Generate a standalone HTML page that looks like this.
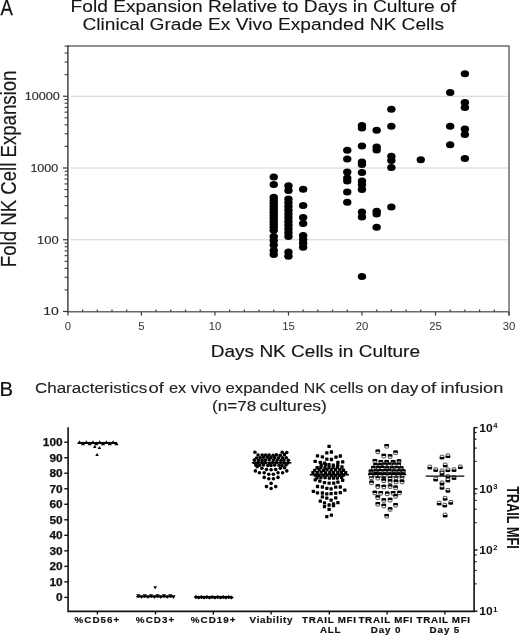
<!DOCTYPE html>
<html><head><meta charset="utf-8"><style>
html,body{margin:0;padding:0;background:#fff;}
svg{filter:grayscale(1);}
svg{display:block;}
</style></head><body>
<svg xmlns="http://www.w3.org/2000/svg" width="520" height="636" viewBox="0 0 520 636" font-family="Liberation Sans">
<rect width="520" height="636" fill="#fff"/>
<line x1="70.7" y1="239.75" x2="508.2" y2="239.75" stroke="#d4d4d4" stroke-width="1"/>
<line x1="70.7" y1="168.00" x2="508.2" y2="168.00" stroke="#d4d4d4" stroke-width="1"/>
<line x1="70.7" y1="96.25" x2="508.2" y2="96.25" stroke="#d4d4d4" stroke-width="1"/>
<path d="M67.9,46.0 H509.0 V315.59999999999997" fill="none" stroke="#6c6c6c" stroke-width="1.5"/>
<line x1="67.2" y1="311.7" x2="509.0" y2="311.7" stroke="#6a6a6a" stroke-width="1.5"/>
<line x1="67.9" y1="45.3" x2="67.9" y2="312.4" stroke="#383838" stroke-width="1.4"/>
<line x1="67.90" y1="311.7" x2="67.90" y2="315.59999999999997" stroke="#3a3a3a" stroke-width="1.2"/>
<text x="67.90" y="330.2" font-size="11.3" text-anchor="middle" fill="#333">0</text>
<line x1="82.60" y1="311.7" x2="82.60" y2="309.5" stroke="#3a3a3a" stroke-width="1.2"/>
<line x1="97.31" y1="311.7" x2="97.31" y2="309.5" stroke="#3a3a3a" stroke-width="1.2"/>
<line x1="112.01" y1="311.7" x2="112.01" y2="309.5" stroke="#3a3a3a" stroke-width="1.2"/>
<line x1="126.71" y1="311.7" x2="126.71" y2="309.5" stroke="#3a3a3a" stroke-width="1.2"/>
<line x1="141.42" y1="311.7" x2="141.42" y2="315.59999999999997" stroke="#3a3a3a" stroke-width="1.2"/>
<text x="141.42" y="330.2" font-size="11.3" text-anchor="middle" fill="#333">5</text>
<line x1="156.12" y1="311.7" x2="156.12" y2="309.5" stroke="#3a3a3a" stroke-width="1.2"/>
<line x1="170.82" y1="311.7" x2="170.82" y2="309.5" stroke="#3a3a3a" stroke-width="1.2"/>
<line x1="185.53" y1="311.7" x2="185.53" y2="309.5" stroke="#3a3a3a" stroke-width="1.2"/>
<line x1="200.23" y1="311.7" x2="200.23" y2="309.5" stroke="#3a3a3a" stroke-width="1.2"/>
<line x1="214.93" y1="311.7" x2="214.93" y2="315.59999999999997" stroke="#3a3a3a" stroke-width="1.2"/>
<text x="214.93" y="330.2" font-size="11.3" text-anchor="middle" fill="#333">10</text>
<line x1="229.64" y1="311.7" x2="229.64" y2="309.5" stroke="#3a3a3a" stroke-width="1.2"/>
<line x1="244.34" y1="311.7" x2="244.34" y2="309.5" stroke="#3a3a3a" stroke-width="1.2"/>
<line x1="259.04" y1="311.7" x2="259.04" y2="309.5" stroke="#3a3a3a" stroke-width="1.2"/>
<line x1="273.75" y1="311.7" x2="273.75" y2="309.5" stroke="#3a3a3a" stroke-width="1.2"/>
<line x1="288.45" y1="311.7" x2="288.45" y2="315.59999999999997" stroke="#3a3a3a" stroke-width="1.2"/>
<text x="288.45" y="330.2" font-size="11.3" text-anchor="middle" fill="#333">15</text>
<line x1="303.15" y1="311.7" x2="303.15" y2="309.5" stroke="#3a3a3a" stroke-width="1.2"/>
<line x1="317.86" y1="311.7" x2="317.86" y2="309.5" stroke="#3a3a3a" stroke-width="1.2"/>
<line x1="332.56" y1="311.7" x2="332.56" y2="309.5" stroke="#3a3a3a" stroke-width="1.2"/>
<line x1="347.26" y1="311.7" x2="347.26" y2="309.5" stroke="#3a3a3a" stroke-width="1.2"/>
<line x1="361.97" y1="311.7" x2="361.97" y2="315.59999999999997" stroke="#3a3a3a" stroke-width="1.2"/>
<text x="361.97" y="330.2" font-size="11.3" text-anchor="middle" fill="#333">20</text>
<line x1="376.67" y1="311.7" x2="376.67" y2="309.5" stroke="#3a3a3a" stroke-width="1.2"/>
<line x1="391.37" y1="311.7" x2="391.37" y2="309.5" stroke="#3a3a3a" stroke-width="1.2"/>
<line x1="406.08" y1="311.7" x2="406.08" y2="309.5" stroke="#3a3a3a" stroke-width="1.2"/>
<line x1="420.78" y1="311.7" x2="420.78" y2="309.5" stroke="#3a3a3a" stroke-width="1.2"/>
<line x1="435.48" y1="311.7" x2="435.48" y2="315.59999999999997" stroke="#3a3a3a" stroke-width="1.2"/>
<text x="435.48" y="330.2" font-size="11.3" text-anchor="middle" fill="#333">25</text>
<line x1="450.19" y1="311.7" x2="450.19" y2="309.5" stroke="#3a3a3a" stroke-width="1.2"/>
<line x1="464.89" y1="311.7" x2="464.89" y2="309.5" stroke="#3a3a3a" stroke-width="1.2"/>
<line x1="479.59" y1="311.7" x2="479.59" y2="309.5" stroke="#3a3a3a" stroke-width="1.2"/>
<line x1="494.30" y1="311.7" x2="494.30" y2="309.5" stroke="#3a3a3a" stroke-width="1.2"/>
<line x1="509.00" y1="311.7" x2="509.00" y2="315.59999999999997" stroke="#3a3a3a" stroke-width="1.2"/>
<text x="509.00" y="330.2" font-size="11.3" text-anchor="middle" fill="#333">30</text>
<line x1="63.00000000000001" y1="311.50" x2="67.9" y2="311.50" stroke="#3a3a3a" stroke-width="1.2"/>
<line x1="64.60000000000001" y1="289.90" x2="67.9" y2="289.90" stroke="#3a3a3a" stroke-width="1.1"/>
<line x1="64.60000000000001" y1="277.27" x2="67.9" y2="277.27" stroke="#3a3a3a" stroke-width="1.1"/>
<line x1="64.60000000000001" y1="268.30" x2="67.9" y2="268.30" stroke="#3a3a3a" stroke-width="1.1"/>
<line x1="64.60000000000001" y1="261.35" x2="67.9" y2="261.35" stroke="#3a3a3a" stroke-width="1.1"/>
<line x1="64.60000000000001" y1="255.67" x2="67.9" y2="255.67" stroke="#3a3a3a" stroke-width="1.1"/>
<line x1="64.60000000000001" y1="250.86" x2="67.9" y2="250.86" stroke="#3a3a3a" stroke-width="1.1"/>
<line x1="64.60000000000001" y1="246.70" x2="67.9" y2="246.70" stroke="#3a3a3a" stroke-width="1.1"/>
<line x1="64.60000000000001" y1="243.03" x2="67.9" y2="243.03" stroke="#3a3a3a" stroke-width="1.1"/>
<line x1="63.00000000000001" y1="239.75" x2="67.9" y2="239.75" stroke="#3a3a3a" stroke-width="1.2"/>
<line x1="64.60000000000001" y1="218.15" x2="67.9" y2="218.15" stroke="#3a3a3a" stroke-width="1.1"/>
<line x1="64.60000000000001" y1="205.52" x2="67.9" y2="205.52" stroke="#3a3a3a" stroke-width="1.1"/>
<line x1="64.60000000000001" y1="196.55" x2="67.9" y2="196.55" stroke="#3a3a3a" stroke-width="1.1"/>
<line x1="64.60000000000001" y1="189.60" x2="67.9" y2="189.60" stroke="#3a3a3a" stroke-width="1.1"/>
<line x1="64.60000000000001" y1="183.92" x2="67.9" y2="183.92" stroke="#3a3a3a" stroke-width="1.1"/>
<line x1="64.60000000000001" y1="179.11" x2="67.9" y2="179.11" stroke="#3a3a3a" stroke-width="1.1"/>
<line x1="64.60000000000001" y1="174.95" x2="67.9" y2="174.95" stroke="#3a3a3a" stroke-width="1.1"/>
<line x1="64.60000000000001" y1="171.28" x2="67.9" y2="171.28" stroke="#3a3a3a" stroke-width="1.1"/>
<line x1="63.00000000000001" y1="168.00" x2="67.9" y2="168.00" stroke="#3a3a3a" stroke-width="1.2"/>
<line x1="64.60000000000001" y1="146.40" x2="67.9" y2="146.40" stroke="#3a3a3a" stroke-width="1.1"/>
<line x1="64.60000000000001" y1="133.77" x2="67.9" y2="133.77" stroke="#3a3a3a" stroke-width="1.1"/>
<line x1="64.60000000000001" y1="124.80" x2="67.9" y2="124.80" stroke="#3a3a3a" stroke-width="1.1"/>
<line x1="64.60000000000001" y1="117.85" x2="67.9" y2="117.85" stroke="#3a3a3a" stroke-width="1.1"/>
<line x1="64.60000000000001" y1="112.17" x2="67.9" y2="112.17" stroke="#3a3a3a" stroke-width="1.1"/>
<line x1="64.60000000000001" y1="107.36" x2="67.9" y2="107.36" stroke="#3a3a3a" stroke-width="1.1"/>
<line x1="64.60000000000001" y1="103.20" x2="67.9" y2="103.20" stroke="#3a3a3a" stroke-width="1.1"/>
<line x1="64.60000000000001" y1="99.53" x2="67.9" y2="99.53" stroke="#3a3a3a" stroke-width="1.1"/>
<line x1="63.00000000000001" y1="96.25" x2="67.9" y2="96.25" stroke="#3a3a3a" stroke-width="1.2"/>
<line x1="64.60000000000001" y1="74.65" x2="67.9" y2="74.65" stroke="#3a3a3a" stroke-width="1.1"/>
<line x1="64.60000000000001" y1="62.02" x2="67.9" y2="62.02" stroke="#3a3a3a" stroke-width="1.1"/>
<line x1="64.60000000000001" y1="53.05" x2="67.9" y2="53.05" stroke="#3a3a3a" stroke-width="1.1"/>
<line x1="64.60000000000001" y1="46.10" x2="67.9" y2="46.10" stroke="#3a3a3a" stroke-width="1.1"/>
<text x="58.8" y="315.40" font-size="11.2" text-anchor="end" fill="#2a2a2a" stroke="#2a2a2a" stroke-width="0.15" textLength="15.6" lengthAdjust="spacingAndGlyphs">10</text>
<text x="58.7" y="243.65" font-size="11.2" text-anchor="end" fill="#2a2a2a" stroke="#2a2a2a" stroke-width="0.15" textLength="21.6" lengthAdjust="spacingAndGlyphs">100</text>
<text x="58.3" y="171.90" font-size="11.2" text-anchor="end" fill="#2a2a2a" stroke="#2a2a2a" stroke-width="0.15" textLength="27.9" lengthAdjust="spacingAndGlyphs">1000</text>
<text x="59.9" y="100.15" font-size="11.2" text-anchor="end" fill="#2a2a2a" stroke="#2a2a2a" stroke-width="0.15" textLength="35.2" lengthAdjust="spacingAndGlyphs">10000</text>
<ellipse cx="273.75" cy="176.90" rx="4.2" ry="3.5" fill="#000"/>
<ellipse cx="273.75" cy="184.40" rx="4.2" ry="3.5" fill="#000"/>
<ellipse cx="273.75" cy="197.30" rx="4.2" ry="3.5" fill="#000"/>
<ellipse cx="273.75" cy="200.30" rx="4.2" ry="3.5" fill="#000"/>
<ellipse cx="273.75" cy="203.30" rx="4.2" ry="3.5" fill="#000"/>
<ellipse cx="273.75" cy="206.30" rx="4.2" ry="3.5" fill="#000"/>
<ellipse cx="273.75" cy="209.30" rx="4.2" ry="3.5" fill="#000"/>
<ellipse cx="273.75" cy="212.30" rx="4.2" ry="3.5" fill="#000"/>
<ellipse cx="273.75" cy="215.30" rx="4.2" ry="3.5" fill="#000"/>
<ellipse cx="273.75" cy="218.30" rx="4.2" ry="3.5" fill="#000"/>
<ellipse cx="273.75" cy="221.30" rx="4.2" ry="3.5" fill="#000"/>
<ellipse cx="273.75" cy="224.30" rx="4.2" ry="3.5" fill="#000"/>
<ellipse cx="273.75" cy="227.30" rx="4.2" ry="3.5" fill="#000"/>
<ellipse cx="273.75" cy="230.30" rx="4.2" ry="3.5" fill="#000"/>
<ellipse cx="273.75" cy="236.50" rx="4.2" ry="3.5" fill="#000"/>
<ellipse cx="273.75" cy="240.50" rx="4.2" ry="3.5" fill="#000"/>
<ellipse cx="273.75" cy="245.00" rx="4.2" ry="3.5" fill="#000"/>
<ellipse cx="273.75" cy="250.50" rx="4.2" ry="3.5" fill="#000"/>
<ellipse cx="273.75" cy="254.50" rx="4.2" ry="3.5" fill="#000"/>
<ellipse cx="288.45" cy="185.70" rx="4.2" ry="3.5" fill="#000"/>
<ellipse cx="288.45" cy="190.50" rx="4.2" ry="3.5" fill="#000"/>
<ellipse cx="288.45" cy="199.00" rx="4.2" ry="3.5" fill="#000"/>
<ellipse cx="288.45" cy="202.75" rx="4.2" ry="3.5" fill="#000"/>
<ellipse cx="288.45" cy="206.50" rx="4.2" ry="3.5" fill="#000"/>
<ellipse cx="288.45" cy="210.25" rx="4.2" ry="3.5" fill="#000"/>
<ellipse cx="288.45" cy="214.00" rx="4.2" ry="3.5" fill="#000"/>
<ellipse cx="288.45" cy="217.75" rx="4.2" ry="3.5" fill="#000"/>
<ellipse cx="288.45" cy="221.50" rx="4.2" ry="3.5" fill="#000"/>
<ellipse cx="288.45" cy="225.25" rx="4.2" ry="3.5" fill="#000"/>
<ellipse cx="288.45" cy="229.00" rx="4.2" ry="3.5" fill="#000"/>
<ellipse cx="288.45" cy="232.75" rx="4.2" ry="3.5" fill="#000"/>
<ellipse cx="288.45" cy="236.50" rx="4.2" ry="3.5" fill="#000"/>
<ellipse cx="288.45" cy="252.00" rx="4.2" ry="3.5" fill="#000"/>
<ellipse cx="288.45" cy="256.30" rx="4.2" ry="3.5" fill="#000"/>
<ellipse cx="303.15" cy="189.30" rx="4.2" ry="3.5" fill="#000"/>
<ellipse cx="303.15" cy="205.60" rx="4.2" ry="3.5" fill="#000"/>
<ellipse cx="303.15" cy="217.50" rx="4.2" ry="3.5" fill="#000"/>
<ellipse cx="303.15" cy="223.50" rx="4.2" ry="3.5" fill="#000"/>
<ellipse cx="303.15" cy="235.50" rx="4.2" ry="3.5" fill="#000"/>
<ellipse cx="303.15" cy="239.50" rx="4.2" ry="3.5" fill="#000"/>
<ellipse cx="303.15" cy="243.30" rx="4.2" ry="3.5" fill="#000"/>
<ellipse cx="303.15" cy="247.30" rx="4.2" ry="3.5" fill="#000"/>
<ellipse cx="347.26" cy="150.30" rx="4.2" ry="3.5" fill="#000"/>
<ellipse cx="347.26" cy="159.00" rx="4.2" ry="3.5" fill="#000"/>
<ellipse cx="347.26" cy="171.90" rx="4.2" ry="3.5" fill="#000"/>
<ellipse cx="347.26" cy="178.00" rx="4.2" ry="3.5" fill="#000"/>
<ellipse cx="347.26" cy="181.00" rx="4.2" ry="3.5" fill="#000"/>
<ellipse cx="347.26" cy="191.90" rx="4.2" ry="3.5" fill="#000"/>
<ellipse cx="347.26" cy="202.30" rx="4.2" ry="3.5" fill="#000"/>
<ellipse cx="361.97" cy="125.50" rx="4.2" ry="3.5" fill="#000"/>
<ellipse cx="361.97" cy="128.00" rx="4.2" ry="3.5" fill="#000"/>
<ellipse cx="361.97" cy="146.00" rx="4.2" ry="3.5" fill="#000"/>
<ellipse cx="361.97" cy="162.00" rx="4.2" ry="3.5" fill="#000"/>
<ellipse cx="361.97" cy="164.50" rx="4.2" ry="3.5" fill="#000"/>
<ellipse cx="361.97" cy="172.40" rx="4.2" ry="3.5" fill="#000"/>
<ellipse cx="361.97" cy="181.00" rx="4.2" ry="3.5" fill="#000"/>
<ellipse cx="361.97" cy="184.80" rx="4.2" ry="3.5" fill="#000"/>
<ellipse cx="361.97" cy="189.40" rx="4.2" ry="3.5" fill="#000"/>
<ellipse cx="361.97" cy="211.90" rx="4.2" ry="3.5" fill="#000"/>
<ellipse cx="361.97" cy="216.90" rx="4.2" ry="3.5" fill="#000"/>
<ellipse cx="361.97" cy="276.40" rx="4.2" ry="3.5" fill="#000"/>
<ellipse cx="376.67" cy="130.30" rx="4.2" ry="3.5" fill="#000"/>
<ellipse cx="376.67" cy="146.90" rx="4.2" ry="3.5" fill="#000"/>
<ellipse cx="376.67" cy="150.00" rx="4.2" ry="3.5" fill="#000"/>
<ellipse cx="376.67" cy="211.30" rx="4.2" ry="3.5" fill="#000"/>
<ellipse cx="376.67" cy="214.00" rx="4.2" ry="3.5" fill="#000"/>
<ellipse cx="376.67" cy="227.30" rx="4.2" ry="3.5" fill="#000"/>
<ellipse cx="391.37" cy="109.30" rx="4.2" ry="3.5" fill="#000"/>
<ellipse cx="391.37" cy="126.20" rx="4.2" ry="3.5" fill="#000"/>
<ellipse cx="391.37" cy="156.30" rx="4.2" ry="3.5" fill="#000"/>
<ellipse cx="391.37" cy="160.60" rx="4.2" ry="3.5" fill="#000"/>
<ellipse cx="391.37" cy="167.60" rx="4.2" ry="3.5" fill="#000"/>
<ellipse cx="391.37" cy="206.90" rx="4.2" ry="3.5" fill="#000"/>
<ellipse cx="420.78" cy="159.80" rx="4.2" ry="3.5" fill="#000"/>
<ellipse cx="450.19" cy="92.50" rx="4.2" ry="3.5" fill="#000"/>
<ellipse cx="450.19" cy="126.30" rx="4.2" ry="3.5" fill="#000"/>
<ellipse cx="450.19" cy="144.80" rx="4.2" ry="3.5" fill="#000"/>
<ellipse cx="464.89" cy="73.80" rx="4.2" ry="3.5" fill="#000"/>
<ellipse cx="464.89" cy="102.40" rx="4.2" ry="3.5" fill="#000"/>
<ellipse cx="464.89" cy="107.60" rx="4.2" ry="3.5" fill="#000"/>
<ellipse cx="464.89" cy="128.90" rx="4.2" ry="3.5" fill="#000"/>
<ellipse cx="464.89" cy="134.40" rx="4.2" ry="3.5" fill="#000"/>
<ellipse cx="464.89" cy="158.60" rx="4.2" ry="3.5" fill="#000"/>
<text transform="translate(0.6,14.9) scale(0.84,1)" x="0" y="0" font-size="22" fill="#111" stroke="#111" stroke-width="0.25">A</text>
<text x="70.6" y="11.6" font-size="16.4" fill="#151515" stroke="#151515" stroke-width="0.1" textLength="385.5" lengthAdjust="spacingAndGlyphs">Fold Expansion Relative to Days in Culture of</text>
<text x="82.4" y="29.9" font-size="16.4" fill="#151515" stroke="#151515" stroke-width="0.1" textLength="361.8" lengthAdjust="spacingAndGlyphs">Clinical Grade Ex Vivo Expanded NK Cells</text>
<text x="210.8" y="356.7" font-size="16.2" fill="#151515" stroke="#151515" stroke-width="0.15" textLength="209.2" lengthAdjust="spacingAndGlyphs">Days NK Cells in Culture</text>
<text transform="translate(16.0,267.2) rotate(-90)" x="0" y="0" font-size="22.6" fill="#1a1a1a" stroke="#1a1a1a" stroke-width="0.2" textLength="196.6" lengthAdjust="spacingAndGlyphs">Fold NK Cell Expansion</text>
<path d="M68.1,427.2 V611.4 H474.1 V427.2" fill="none" stroke="#111" stroke-width="1.6"/>
<line x1="64.3" y1="597.40" x2="68.1" y2="597.40" stroke="#111" stroke-width="1.4"/>
<text x="62.6" y="601.40" font-size="10.4" font-weight="bold" text-anchor="end" fill="#111" stroke="#111" stroke-width="0.25" textLength="6.6" lengthAdjust="spacingAndGlyphs">0</text>
<line x1="64.3" y1="581.88" x2="68.1" y2="581.88" stroke="#111" stroke-width="1.4"/>
<text x="62.6" y="585.88" font-size="10.4" font-weight="bold" text-anchor="end" fill="#111" stroke="#111" stroke-width="0.25" textLength="13.2" lengthAdjust="spacingAndGlyphs">10</text>
<line x1="64.3" y1="566.36" x2="68.1" y2="566.36" stroke="#111" stroke-width="1.4"/>
<text x="62.6" y="570.36" font-size="10.4" font-weight="bold" text-anchor="end" fill="#111" stroke="#111" stroke-width="0.25" textLength="13.2" lengthAdjust="spacingAndGlyphs">20</text>
<line x1="64.3" y1="550.84" x2="68.1" y2="550.84" stroke="#111" stroke-width="1.4"/>
<text x="62.6" y="554.84" font-size="10.4" font-weight="bold" text-anchor="end" fill="#111" stroke="#111" stroke-width="0.25" textLength="13.2" lengthAdjust="spacingAndGlyphs">30</text>
<line x1="64.3" y1="535.32" x2="68.1" y2="535.32" stroke="#111" stroke-width="1.4"/>
<text x="62.6" y="539.32" font-size="10.4" font-weight="bold" text-anchor="end" fill="#111" stroke="#111" stroke-width="0.25" textLength="13.2" lengthAdjust="spacingAndGlyphs">40</text>
<line x1="64.3" y1="519.80" x2="68.1" y2="519.80" stroke="#111" stroke-width="1.4"/>
<text x="62.6" y="523.80" font-size="10.4" font-weight="bold" text-anchor="end" fill="#111" stroke="#111" stroke-width="0.25" textLength="13.2" lengthAdjust="spacingAndGlyphs">50</text>
<line x1="64.3" y1="504.28" x2="68.1" y2="504.28" stroke="#111" stroke-width="1.4"/>
<text x="62.6" y="508.28" font-size="10.4" font-weight="bold" text-anchor="end" fill="#111" stroke="#111" stroke-width="0.25" textLength="13.2" lengthAdjust="spacingAndGlyphs">60</text>
<line x1="64.3" y1="488.76" x2="68.1" y2="488.76" stroke="#111" stroke-width="1.4"/>
<text x="62.6" y="492.76" font-size="10.4" font-weight="bold" text-anchor="end" fill="#111" stroke="#111" stroke-width="0.25" textLength="13.2" lengthAdjust="spacingAndGlyphs">70</text>
<line x1="64.3" y1="473.24" x2="68.1" y2="473.24" stroke="#111" stroke-width="1.4"/>
<text x="62.6" y="477.24" font-size="10.4" font-weight="bold" text-anchor="end" fill="#111" stroke="#111" stroke-width="0.25" textLength="13.2" lengthAdjust="spacingAndGlyphs">80</text>
<line x1="64.3" y1="457.72" x2="68.1" y2="457.72" stroke="#111" stroke-width="1.4"/>
<text x="62.6" y="461.72" font-size="10.4" font-weight="bold" text-anchor="end" fill="#111" stroke="#111" stroke-width="0.25" textLength="13.2" lengthAdjust="spacingAndGlyphs">90</text>
<line x1="64.3" y1="442.20" x2="68.1" y2="442.20" stroke="#111" stroke-width="1.4"/>
<text x="62.6" y="446.20" font-size="10.4" font-weight="bold" text-anchor="end" fill="#111" stroke="#111" stroke-width="0.25" textLength="19.8" lengthAdjust="spacingAndGlyphs">100</text>
<line x1="97.4" y1="611.4" x2="97.4" y2="614.4" stroke="#111" stroke-width="1.4"/>
<line x1="155.5" y1="611.4" x2="155.5" y2="614.4" stroke="#111" stroke-width="1.4"/>
<line x1="213.3" y1="611.4" x2="213.3" y2="614.4" stroke="#111" stroke-width="1.4"/>
<line x1="271.1" y1="611.4" x2="271.1" y2="614.4" stroke="#111" stroke-width="1.4"/>
<line x1="329.3" y1="611.4" x2="329.3" y2="614.4" stroke="#111" stroke-width="1.4"/>
<line x1="387.1" y1="611.4" x2="387.1" y2="614.4" stroke="#111" stroke-width="1.4"/>
<line x1="444.9" y1="611.4" x2="444.9" y2="614.4" stroke="#111" stroke-width="1.4"/>
<line x1="474.1" y1="611.20" x2="477.5" y2="611.20" stroke="#111" stroke-width="1.4"/>
<line x1="474.1" y1="550.00" x2="477.5" y2="550.00" stroke="#111" stroke-width="1.4"/>
<line x1="474.1" y1="488.80" x2="477.5" y2="488.80" stroke="#111" stroke-width="1.4"/>
<line x1="474.1" y1="427.60" x2="477.5" y2="427.60" stroke="#111" stroke-width="1.4"/>
<line x1="474.1" y1="554.90" x2="476.5" y2="554.90" stroke="#111" stroke-width="1.2"/>
<line x1="474.1" y1="561.63" x2="476.5" y2="561.63" stroke="#111" stroke-width="1.2"/>
<line x1="474.1" y1="570.50" x2="476.5" y2="570.50" stroke="#111" stroke-width="1.2"/>
<line x1="474.1" y1="583.84" x2="476.5" y2="583.84" stroke="#111" stroke-width="1.2"/>
<line x1="474.1" y1="493.70" x2="476.5" y2="493.70" stroke="#111" stroke-width="1.2"/>
<line x1="474.1" y1="500.43" x2="476.5" y2="500.43" stroke="#111" stroke-width="1.2"/>
<line x1="474.1" y1="509.30" x2="476.5" y2="509.30" stroke="#111" stroke-width="1.2"/>
<line x1="474.1" y1="522.64" x2="476.5" y2="522.64" stroke="#111" stroke-width="1.2"/>
<line x1="474.1" y1="432.50" x2="476.5" y2="432.50" stroke="#111" stroke-width="1.2"/>
<line x1="474.1" y1="439.23" x2="476.5" y2="439.23" stroke="#111" stroke-width="1.2"/>
<line x1="474.1" y1="448.10" x2="476.5" y2="448.10" stroke="#111" stroke-width="1.2"/>
<line x1="474.1" y1="461.44" x2="476.5" y2="461.44" stroke="#111" stroke-width="1.2"/>
<text x="479.2" y="615.20" font-size="11" font-weight="bold" fill="#111" textLength="13.4" lengthAdjust="spacingAndGlyphs">10</text>
<text x="493.3" y="611.50" font-size="7.6" font-weight="bold" fill="#111">1</text>
<text x="479.2" y="554.00" font-size="11" font-weight="bold" fill="#111" textLength="13.4" lengthAdjust="spacingAndGlyphs">10</text>
<text x="493.3" y="550.30" font-size="7.6" font-weight="bold" fill="#111">2</text>
<text x="479.2" y="492.80" font-size="11" font-weight="bold" fill="#111" textLength="13.4" lengthAdjust="spacingAndGlyphs">10</text>
<text x="493.3" y="489.10" font-size="7.6" font-weight="bold" fill="#111">3</text>
<text x="479.2" y="431.60" font-size="11" font-weight="bold" fill="#111" textLength="13.4" lengthAdjust="spacingAndGlyphs">10</text>
<text x="493.3" y="427.90" font-size="7.6" font-weight="bold" fill="#111">4</text>
<text transform="translate(507.4,486.2) rotate(90)" font-size="15.8" font-weight="bold" fill="#111" textLength="62.6" lengthAdjust="spacingAndGlyphs">TRAIL MFI</text>
<text x="74.60" y="622.7" font-size="9.8" font-weight="bold" fill="#111" stroke="#111" stroke-width="0.2" textLength="44.60" lengthAdjust="spacing">%CD56+</text>
<text x="135.85" y="622.7" font-size="9.8" font-weight="bold" fill="#111" stroke="#111" stroke-width="0.2" textLength="38.40" lengthAdjust="spacing">%CD3+</text>
<text x="190.82" y="622.7" font-size="9.8" font-weight="bold" fill="#111" stroke="#111" stroke-width="0.2" textLength="44.65" lengthAdjust="spacing">%CD19+</text>
<text x="249.60" y="622.7" font-size="9.8" font-weight="bold" fill="#111" stroke="#111" stroke-width="0.2" textLength="42.90" lengthAdjust="spacing">Viability</text>
<text x="302.10" y="622.7" font-size="9.8" font-weight="bold" fill="#111" stroke="#111" stroke-width="0.2" textLength="53.90" lengthAdjust="spacing">TRAIL MFI</text>
<text x="320.10" y="632.8" font-size="9.8" font-weight="bold" fill="#111" stroke="#111" stroke-width="0.2" textLength="20.40" lengthAdjust="spacing">ALL</text>
<text x="358.38" y="622.7" font-size="9.8" font-weight="bold" fill="#111" stroke="#111" stroke-width="0.2" textLength="54.15" lengthAdjust="spacing">TRAIL MFI</text>
<text x="370.83" y="632.8" font-size="9.8" font-weight="bold" fill="#111" stroke="#111" stroke-width="0.2" textLength="29.65" lengthAdjust="spacing">Day 0</text>
<text x="416.60" y="622.7" font-size="9.8" font-weight="bold" fill="#111" stroke="#111" stroke-width="0.2" textLength="53.40" lengthAdjust="spacing">TRAIL MFI</text>
<text x="429.62" y="632.8" font-size="9.8" font-weight="bold" fill="#111" stroke="#111" stroke-width="0.2" textLength="29.65" lengthAdjust="spacing">Day 5</text>
<line x1="77.7" y1="442.9" x2="116.9" y2="442.9" stroke="#000" stroke-width="1.6"/>
<path d="M77.50,444.00 L79.60,440.20 L81.70,444.00 Z" fill="#000"/>
<path d="M80.85,445.20 L82.95,441.40 L85.05,445.20 Z" fill="#000"/>
<path d="M84.20,444.00 L86.30,440.20 L88.40,444.00 Z" fill="#000"/>
<path d="M87.55,445.20 L89.65,441.40 L91.75,445.20 Z" fill="#000"/>
<path d="M90.90,444.00 L93.00,440.20 L95.10,444.00 Z" fill="#000"/>
<path d="M94.25,445.20 L96.35,441.40 L98.45,445.20 Z" fill="#000"/>
<path d="M97.60,444.00 L99.70,440.20 L101.80,444.00 Z" fill="#000"/>
<path d="M100.95,445.20 L103.05,441.40 L105.15,445.20 Z" fill="#000"/>
<path d="M104.30,444.00 L106.40,440.20 L108.50,444.00 Z" fill="#000"/>
<path d="M107.65,445.20 L109.75,441.40 L111.85,445.20 Z" fill="#000"/>
<path d="M111.00,444.00 L113.10,440.20 L115.20,444.00 Z" fill="#000"/>
<path d="M114.35,445.20 L116.45,441.40 L118.55,445.20 Z" fill="#000"/>
<path d="M93.00,447.90 L94.80,444.70 L96.60,447.90 Z" fill="#000"/>
<path d="M97.60,449.10 L99.40,445.90 L101.20,449.10 Z" fill="#000"/>
<path d="M95.30,456.10 L97.10,452.90 L98.90,456.10 Z" fill="#000"/>
<line x1="136.3" y1="596.7" x2="174.2" y2="596.7" stroke="#000" stroke-width="1.6"/>
<path d="M136.20,594.20 L138.30,598.00 L140.40,594.20 Z" fill="#000"/>
<path d="M139.40,595.30 L141.50,599.10 L143.60,595.30 Z" fill="#000"/>
<path d="M142.60,594.20 L144.70,598.00 L146.80,594.20 Z" fill="#000"/>
<path d="M145.80,595.30 L147.90,599.10 L150.00,595.30 Z" fill="#000"/>
<path d="M149.00,594.20 L151.10,598.00 L153.20,594.20 Z" fill="#000"/>
<path d="M152.20,595.30 L154.30,599.10 L156.40,595.30 Z" fill="#000"/>
<path d="M155.40,594.20 L157.50,598.00 L159.60,594.20 Z" fill="#000"/>
<path d="M158.60,595.30 L160.70,599.10 L162.80,595.30 Z" fill="#000"/>
<path d="M161.80,594.20 L163.90,598.00 L166.00,594.20 Z" fill="#000"/>
<path d="M165.00,595.30 L167.10,599.10 L169.20,595.30 Z" fill="#000"/>
<path d="M168.20,594.20 L170.30,598.00 L172.40,594.20 Z" fill="#000"/>
<path d="M171.40,595.30 L173.50,599.10 L175.60,595.30 Z" fill="#000"/>
<path d="M153.40,586.30 L155.20,589.50 L157.00,586.30 Z" fill="#000"/>
<line x1="195" y1="597.3" x2="231.2" y2="597.3" stroke="#000" stroke-width="2.0"/>
<path d="M193.60,597.05 L196.00,595.05 L198.40,597.05 L196.00,599.05 Z" fill="#000"/>
<path d="M196.32,597.55 L198.72,595.55 L201.12,597.55 L198.72,599.55 Z" fill="#000"/>
<path d="M199.04,597.05 L201.44,595.05 L203.84,597.05 L201.44,599.05 Z" fill="#000"/>
<path d="M201.76,597.55 L204.16,595.55 L206.56,597.55 L204.16,599.55 Z" fill="#000"/>
<path d="M204.48,597.05 L206.88,595.05 L209.28,597.05 L206.88,599.05 Z" fill="#000"/>
<path d="M207.20,597.55 L209.60,595.55 L212.00,597.55 L209.60,599.55 Z" fill="#000"/>
<path d="M209.92,597.05 L212.32,595.05 L214.72,597.05 L212.32,599.05 Z" fill="#000"/>
<path d="M212.64,597.55 L215.04,595.55 L217.44,597.55 L215.04,599.55 Z" fill="#000"/>
<path d="M215.36,597.05 L217.76,595.05 L220.16,597.05 L217.76,599.05 Z" fill="#000"/>
<path d="M218.08,597.55 L220.48,595.55 L222.88,597.55 L220.48,599.55 Z" fill="#000"/>
<path d="M220.80,597.05 L223.20,595.05 L225.60,597.05 L223.20,599.05 Z" fill="#000"/>
<path d="M223.52,597.55 L225.92,595.55 L228.32,597.55 L225.92,599.55 Z" fill="#000"/>
<path d="M226.24,597.05 L228.64,595.05 L231.04,597.05 L228.64,599.05 Z" fill="#000"/>
<path d="M228.96,597.55 L231.36,595.55 L233.76,597.55 L231.36,599.55 Z" fill="#000"/>
<circle cx="254.90" cy="452.30" r="1.8" fill="#000"/>
<circle cx="282.20" cy="452.30" r="1.8" fill="#000"/>
<circle cx="286.80" cy="452.50" r="1.8" fill="#000"/>
<circle cx="257.20" cy="466.80" r="1.8" fill="#000"/>
<circle cx="261.90" cy="468.20" r="1.8" fill="#000"/>
<circle cx="266.50" cy="469.50" r="1.8" fill="#000"/>
<circle cx="271.10" cy="469.80" r="1.8" fill="#000"/>
<circle cx="275.70" cy="469.50" r="1.8" fill="#000"/>
<circle cx="280.30" cy="468.20" r="1.8" fill="#000"/>
<circle cx="284.50" cy="467.70" r="1.8" fill="#000"/>
<circle cx="255.40" cy="470.90" r="1.8" fill="#000"/>
<circle cx="259.50" cy="472.80" r="1.8" fill="#000"/>
<circle cx="264.20" cy="472.80" r="1.8" fill="#000"/>
<circle cx="268.80" cy="474.20" r="1.8" fill="#000"/>
<circle cx="273.40" cy="474.20" r="1.8" fill="#000"/>
<circle cx="278.00" cy="472.80" r="1.8" fill="#000"/>
<circle cx="282.60" cy="472.80" r="1.8" fill="#000"/>
<circle cx="286.80" cy="470.90" r="1.8" fill="#000"/>
<circle cx="264.20" cy="477.40" r="1.8" fill="#000"/>
<circle cx="268.80" cy="478.80" r="1.8" fill="#000"/>
<circle cx="273.40" cy="478.80" r="1.8" fill="#000"/>
<circle cx="278.00" cy="477.40" r="1.8" fill="#000"/>
<circle cx="271.10" cy="483.40" r="1.8" fill="#000"/>
<circle cx="266.50" cy="486.60" r="1.8" fill="#000"/>
<circle cx="275.70" cy="486.60" r="1.8" fill="#000"/>
<circle cx="271.10" cy="488.50" r="1.8" fill="#000"/>
<circle cx="258.04" cy="455.05" r="1.8" fill="#000"/>
<circle cx="262.16" cy="454.97" r="1.8" fill="#000"/>
<circle cx="265.58" cy="455.07" r="1.8" fill="#000"/>
<circle cx="269.07" cy="455.01" r="1.8" fill="#000"/>
<circle cx="273.18" cy="455.23" r="1.8" fill="#000"/>
<circle cx="276.50" cy="454.84" r="1.8" fill="#000"/>
<circle cx="280.25" cy="455.25" r="1.8" fill="#000"/>
<circle cx="284.48" cy="454.63" r="1.8" fill="#000"/>
<circle cx="256.59" cy="457.97" r="1.8" fill="#000"/>
<circle cx="260.07" cy="457.69" r="1.8" fill="#000"/>
<circle cx="263.43" cy="457.21" r="1.8" fill="#000"/>
<circle cx="267.47" cy="457.25" r="1.8" fill="#000"/>
<circle cx="270.95" cy="457.39" r="1.8" fill="#000"/>
<circle cx="274.57" cy="457.57" r="1.8" fill="#000"/>
<circle cx="278.65" cy="457.87" r="1.8" fill="#000"/>
<circle cx="282.47" cy="457.71" r="1.8" fill="#000"/>
<circle cx="286.20" cy="457.73" r="1.8" fill="#000"/>
<circle cx="254.29" cy="460.02" r="1.8" fill="#000"/>
<circle cx="258.47" cy="460.60" r="1.8" fill="#000"/>
<circle cx="262.10" cy="460.37" r="1.8" fill="#000"/>
<circle cx="265.43" cy="459.98" r="1.8" fill="#000"/>
<circle cx="269.16" cy="459.86" r="1.8" fill="#000"/>
<circle cx="273.29" cy="460.12" r="1.8" fill="#000"/>
<circle cx="277.10" cy="460.11" r="1.8" fill="#000"/>
<circle cx="280.94" cy="460.48" r="1.8" fill="#000"/>
<circle cx="283.93" cy="459.97" r="1.8" fill="#000"/>
<circle cx="288.40" cy="460.18" r="1.8" fill="#000"/>
<circle cx="254.71" cy="462.72" r="1.8" fill="#000"/>
<circle cx="257.73" cy="462.90" r="1.8" fill="#000"/>
<circle cx="262.05" cy="462.62" r="1.8" fill="#000"/>
<circle cx="265.24" cy="462.67" r="1.8" fill="#000"/>
<circle cx="269.70" cy="463.01" r="1.8" fill="#000"/>
<circle cx="272.77" cy="462.60" r="1.8" fill="#000"/>
<circle cx="276.51" cy="462.45" r="1.8" fill="#000"/>
<circle cx="280.81" cy="462.54" r="1.8" fill="#000"/>
<circle cx="284.37" cy="462.76" r="1.8" fill="#000"/>
<circle cx="287.83" cy="462.99" r="1.8" fill="#000"/>
<circle cx="255.90" cy="465.31" r="1.8" fill="#000"/>
<circle cx="259.64" cy="465.14" r="1.8" fill="#000"/>
<circle cx="263.47" cy="465.02" r="1.8" fill="#000"/>
<circle cx="267.83" cy="465.44" r="1.8" fill="#000"/>
<circle cx="271.04" cy="465.51" r="1.8" fill="#000"/>
<circle cx="274.72" cy="465.12" r="1.8" fill="#000"/>
<circle cx="278.98" cy="465.31" r="1.8" fill="#000"/>
<circle cx="282.13" cy="465.59" r="1.8" fill="#000"/>
<circle cx="285.97" cy="465.01" r="1.8" fill="#000"/>
<line x1="251.7" y1="462.8" x2="291.4" y2="462.8" stroke="#000" stroke-width="1.4"/>
<rect x="327.45" y="444.75" width="3.3" height="3.3" rx="0.6" fill="#000"/>
<rect x="325.15" y="451.25" width="3.3" height="3.3" rx="0.6" fill="#000"/>
<rect x="329.75" y="450.35" width="3.3" height="3.3" rx="0.6" fill="#000"/>
<rect x="315.85" y="454.25" width="3.3" height="3.3" rx="0.6" fill="#000"/>
<rect x="320.75" y="455.15" width="3.3" height="3.3" rx="0.6" fill="#000"/>
<rect x="334.35" y="455.55" width="3.3" height="3.3" rx="0.6" fill="#000"/>
<rect x="338.65" y="454.35" width="3.3" height="3.3" rx="0.6" fill="#000"/>
<rect x="325.15" y="457.45" width="3.3" height="3.3" rx="0.6" fill="#000"/>
<rect x="329.75" y="457.85" width="3.3" height="3.3" rx="0.6" fill="#000"/>
<rect x="313.55" y="459.75" width="3.3" height="3.3" rx="0.6" fill="#000"/>
<rect x="318.65" y="460.65" width="3.3" height="3.3" rx="0.6" fill="#000"/>
<rect x="322.85" y="461.45" width="3.3" height="3.3" rx="0.6" fill="#000"/>
<rect x="336.25" y="460.65" width="3.3" height="3.3" rx="0.6" fill="#000"/>
<rect x="341.05" y="460.25" width="3.3" height="3.3" rx="0.6" fill="#000"/>
<rect x="313.55" y="478.15" width="3.3" height="3.3" rx="0.6" fill="#000"/>
<rect x="318.25" y="479.55" width="3.3" height="3.3" rx="0.6" fill="#000"/>
<rect x="322.85" y="480.95" width="3.3" height="3.3" rx="0.6" fill="#000"/>
<rect x="327.45" y="481.45" width="3.3" height="3.3" rx="0.6" fill="#000"/>
<rect x="332.05" y="481.45" width="3.3" height="3.3" rx="0.6" fill="#000"/>
<rect x="336.25" y="480.55" width="3.3" height="3.3" rx="0.6" fill="#000"/>
<rect x="341.05" y="478.65" width="3.3" height="3.3" rx="0.6" fill="#000"/>
<rect x="315.85" y="484.85" width="3.3" height="3.3" rx="0.6" fill="#000"/>
<rect x="320.75" y="485.35" width="3.3" height="3.3" rx="0.6" fill="#000"/>
<rect x="325.15" y="486.65" width="3.3" height="3.3" rx="0.6" fill="#000"/>
<rect x="329.45" y="487.25" width="3.3" height="3.3" rx="0.6" fill="#000"/>
<rect x="334.05" y="485.55" width="3.3" height="3.3" rx="0.6" fill="#000"/>
<rect x="338.65" y="485.35" width="3.3" height="3.3" rx="0.6" fill="#000"/>
<rect x="311.75" y="489.75" width="3.3" height="3.3" rx="0.6" fill="#000"/>
<rect x="315.85" y="491.15" width="3.3" height="3.3" rx="0.6" fill="#000"/>
<rect x="320.75" y="491.35" width="3.3" height="3.3" rx="0.6" fill="#000"/>
<rect x="325.15" y="492.25" width="3.3" height="3.3" rx="0.6" fill="#000"/>
<rect x="329.45" y="492.05" width="3.3" height="3.3" rx="0.6" fill="#000"/>
<rect x="334.05" y="491.55" width="3.3" height="3.3" rx="0.6" fill="#000"/>
<rect x="338.65" y="490.95" width="3.3" height="3.3" rx="0.6" fill="#000"/>
<rect x="343.15" y="488.55" width="3.3" height="3.3" rx="0.6" fill="#000"/>
<rect x="320.75" y="495.25" width="3.3" height="3.3" rx="0.6" fill="#000"/>
<rect x="325.15" y="496.45" width="3.3" height="3.3" rx="0.6" fill="#000"/>
<rect x="334.05" y="496.25" width="3.3" height="3.3" rx="0.6" fill="#000"/>
<rect x="318.65" y="499.45" width="3.3" height="3.3" rx="0.6" fill="#000"/>
<rect x="329.45" y="498.55" width="3.3" height="3.3" rx="0.6" fill="#000"/>
<rect x="336.25" y="501.05" width="3.3" height="3.3" rx="0.6" fill="#000"/>
<rect x="322.85" y="501.25" width="3.3" height="3.3" rx="0.6" fill="#000"/>
<rect x="327.45" y="503.35" width="3.3" height="3.3" rx="0.6" fill="#000"/>
<rect x="331.85" y="502.35" width="3.3" height="3.3" rx="0.6" fill="#000"/>
<rect x="322.85" y="504.95" width="3.3" height="3.3" rx="0.6" fill="#000"/>
<rect x="331.85" y="504.05" width="3.3" height="3.3" rx="0.6" fill="#000"/>
<rect x="327.45" y="507.75" width="3.3" height="3.3" rx="0.6" fill="#000"/>
<rect x="325.15" y="514.95" width="3.3" height="3.3" rx="0.6" fill="#000"/>
<rect x="329.75" y="513.45" width="3.3" height="3.3" rx="0.6" fill="#000"/>
<rect x="319.53" y="463.28" width="3.3" height="3.3" rx="0.6" fill="#000"/>
<rect x="323.78" y="462.86" width="3.3" height="3.3" rx="0.6" fill="#000"/>
<rect x="327.36" y="463.05" width="3.3" height="3.3" rx="0.6" fill="#000"/>
<rect x="331.67" y="463.40" width="3.3" height="3.3" rx="0.6" fill="#000"/>
<rect x="336.10" y="463.23" width="3.3" height="3.3" rx="0.6" fill="#000"/>
<rect x="315.50" y="465.88" width="3.3" height="3.3" rx="0.6" fill="#000"/>
<rect x="319.27" y="465.70" width="3.3" height="3.3" rx="0.6" fill="#000"/>
<rect x="323.38" y="466.07" width="3.3" height="3.3" rx="0.6" fill="#000"/>
<rect x="327.40" y="466.01" width="3.3" height="3.3" rx="0.6" fill="#000"/>
<rect x="331.51" y="465.90" width="3.3" height="3.3" rx="0.6" fill="#000"/>
<rect x="335.82" y="465.67" width="3.3" height="3.3" rx="0.6" fill="#000"/>
<rect x="340.32" y="465.36" width="3.3" height="3.3" rx="0.6" fill="#000"/>
<rect x="313.05" y="468.68" width="3.3" height="3.3" rx="0.6" fill="#000"/>
<rect x="317.51" y="468.02" width="3.3" height="3.3" rx="0.6" fill="#000"/>
<rect x="321.99" y="468.71" width="3.3" height="3.3" rx="0.6" fill="#000"/>
<rect x="325.39" y="468.29" width="3.3" height="3.3" rx="0.6" fill="#000"/>
<rect x="329.51" y="468.20" width="3.3" height="3.3" rx="0.6" fill="#000"/>
<rect x="334.00" y="468.08" width="3.3" height="3.3" rx="0.6" fill="#000"/>
<rect x="338.16" y="467.99" width="3.3" height="3.3" rx="0.6" fill="#000"/>
<rect x="341.84" y="468.60" width="3.3" height="3.3" rx="0.6" fill="#000"/>
<rect x="311.27" y="470.89" width="3.3" height="3.3" rx="0.6" fill="#000"/>
<rect x="315.53" y="470.93" width="3.3" height="3.3" rx="0.6" fill="#000"/>
<rect x="319.46" y="470.57" width="3.3" height="3.3" rx="0.6" fill="#000"/>
<rect x="323.83" y="471.32" width="3.3" height="3.3" rx="0.6" fill="#000"/>
<rect x="328.13" y="471.08" width="3.3" height="3.3" rx="0.6" fill="#000"/>
<rect x="331.74" y="470.84" width="3.3" height="3.3" rx="0.6" fill="#000"/>
<rect x="336.10" y="471.09" width="3.3" height="3.3" rx="0.6" fill="#000"/>
<rect x="339.74" y="470.74" width="3.3" height="3.3" rx="0.6" fill="#000"/>
<rect x="344.04" y="470.96" width="3.3" height="3.3" rx="0.6" fill="#000"/>
<rect x="313.65" y="473.55" width="3.3" height="3.3" rx="0.6" fill="#000"/>
<rect x="317.12" y="473.81" width="3.3" height="3.3" rx="0.6" fill="#000"/>
<rect x="321.54" y="473.57" width="3.3" height="3.3" rx="0.6" fill="#000"/>
<rect x="325.48" y="473.49" width="3.3" height="3.3" rx="0.6" fill="#000"/>
<rect x="329.71" y="473.77" width="3.3" height="3.3" rx="0.6" fill="#000"/>
<rect x="333.58" y="473.59" width="3.3" height="3.3" rx="0.6" fill="#000"/>
<rect x="337.74" y="473.71" width="3.3" height="3.3" rx="0.6" fill="#000"/>
<rect x="341.73" y="473.37" width="3.3" height="3.3" rx="0.6" fill="#000"/>
<rect x="315.33" y="476.16" width="3.3" height="3.3" rx="0.6" fill="#000"/>
<rect x="319.19" y="476.02" width="3.3" height="3.3" rx="0.6" fill="#000"/>
<rect x="323.42" y="475.88" width="3.3" height="3.3" rx="0.6" fill="#000"/>
<rect x="327.73" y="476.42" width="3.3" height="3.3" rx="0.6" fill="#000"/>
<rect x="331.83" y="476.41" width="3.3" height="3.3" rx="0.6" fill="#000"/>
<rect x="335.68" y="476.39" width="3.3" height="3.3" rx="0.6" fill="#000"/>
<rect x="339.94" y="475.80" width="3.3" height="3.3" rx="0.6" fill="#000"/>
<line x1="309.7" y1="474.8" x2="349" y2="474.8" stroke="#000" stroke-width="1.4"/>
<rect x="384.90" y="444.50" width="3.60" height="3.60" rx="0.6" fill="#fafafa" stroke="#3a3a3a" stroke-width="0.9"/>
<rect x="384.45" y="444.05" width="4.5" height="2.25" rx="0.5" fill="#000"/>
<rect x="376.00" y="450.00" width="3.60" height="3.60" rx="0.6" fill="#fafafa" stroke="#3a3a3a" stroke-width="0.9"/>
<rect x="375.55" y="449.55" width="4.5" height="2.25" rx="0.5" fill="#000"/>
<rect x="393.80" y="450.90" width="3.60" height="3.60" rx="0.6" fill="#fafafa" stroke="#3a3a3a" stroke-width="0.9"/>
<rect x="393.35" y="450.45" width="4.5" height="2.25" rx="0.5" fill="#000"/>
<rect x="382.00" y="454.30" width="3.60" height="3.60" rx="0.6" fill="#fafafa" stroke="#3a3a3a" stroke-width="0.9"/>
<rect x="381.55" y="453.85" width="4.5" height="2.25" rx="0.5" fill="#000"/>
<rect x="388.30" y="454.70" width="3.60" height="3.60" rx="0.6" fill="#fafafa" stroke="#3a3a3a" stroke-width="0.9"/>
<rect x="387.85" y="454.25" width="4.5" height="2.25" rx="0.5" fill="#000"/>
<rect x="373.10" y="459.40" width="3.60" height="3.60" rx="0.6" fill="#fafafa" stroke="#3a3a3a" stroke-width="0.9"/>
<rect x="372.65" y="458.95" width="4.5" height="2.25" rx="0.5" fill="#000"/>
<rect x="379.00" y="460.40" width="3.60" height="3.60" rx="0.6" fill="#fafafa" stroke="#3a3a3a" stroke-width="0.9"/>
<rect x="378.55" y="459.95" width="4.5" height="2.25" rx="0.5" fill="#000"/>
<rect x="384.90" y="460.40" width="3.60" height="3.60" rx="0.6" fill="#fafafa" stroke="#3a3a3a" stroke-width="0.9"/>
<rect x="384.45" y="459.95" width="4.5" height="2.25" rx="0.5" fill="#000"/>
<rect x="391.30" y="460.40" width="3.60" height="3.60" rx="0.6" fill="#fafafa" stroke="#3a3a3a" stroke-width="0.9"/>
<rect x="390.85" y="459.95" width="4.5" height="2.25" rx="0.5" fill="#000"/>
<rect x="397.20" y="459.80" width="3.60" height="3.60" rx="0.6" fill="#fafafa" stroke="#3a3a3a" stroke-width="0.9"/>
<rect x="396.75" y="459.35" width="4.5" height="2.25" rx="0.5" fill="#000"/>
<rect x="369.70" y="475.90" width="3.60" height="3.60" rx="0.6" fill="#fafafa" stroke="#3a3a3a" stroke-width="0.9"/>
<rect x="369.25" y="475.45" width="4.5" height="2.25" rx="0.5" fill="#000"/>
<rect x="376.00" y="476.30" width="3.60" height="3.60" rx="0.6" fill="#fafafa" stroke="#3a3a3a" stroke-width="0.9"/>
<rect x="375.55" y="475.85" width="4.5" height="2.25" rx="0.5" fill="#000"/>
<rect x="382.00" y="476.70" width="3.60" height="3.60" rx="0.6" fill="#fafafa" stroke="#3a3a3a" stroke-width="0.9"/>
<rect x="381.55" y="476.25" width="4.5" height="2.25" rx="0.5" fill="#000"/>
<rect x="388.30" y="476.30" width="3.60" height="3.60" rx="0.6" fill="#fafafa" stroke="#3a3a3a" stroke-width="0.9"/>
<rect x="387.85" y="475.85" width="4.5" height="2.25" rx="0.5" fill="#000"/>
<rect x="394.20" y="475.90" width="3.60" height="3.60" rx="0.6" fill="#fafafa" stroke="#3a3a3a" stroke-width="0.9"/>
<rect x="393.75" y="475.45" width="4.5" height="2.25" rx="0.5" fill="#000"/>
<rect x="400.20" y="475.90" width="3.60" height="3.60" rx="0.6" fill="#fafafa" stroke="#3a3a3a" stroke-width="0.9"/>
<rect x="399.75" y="475.45" width="4.5" height="2.25" rx="0.5" fill="#000"/>
<rect x="369.70" y="481.00" width="3.60" height="3.60" rx="0.6" fill="#fafafa" stroke="#3a3a3a" stroke-width="0.9"/>
<rect x="369.25" y="480.55" width="4.5" height="2.25" rx="0.5" fill="#000"/>
<rect x="382.00" y="478.90" width="3.60" height="3.60" rx="0.6" fill="#fafafa" stroke="#3a3a3a" stroke-width="0.9"/>
<rect x="381.55" y="478.45" width="4.5" height="2.25" rx="0.5" fill="#000"/>
<rect x="388.30" y="479.70" width="3.60" height="3.60" rx="0.6" fill="#fafafa" stroke="#3a3a3a" stroke-width="0.9"/>
<rect x="387.85" y="479.25" width="4.5" height="2.25" rx="0.5" fill="#000"/>
<rect x="394.20" y="480.10" width="3.60" height="3.60" rx="0.6" fill="#fafafa" stroke="#3a3a3a" stroke-width="0.9"/>
<rect x="393.75" y="479.65" width="4.5" height="2.25" rx="0.5" fill="#000"/>
<rect x="400.20" y="480.10" width="3.60" height="3.60" rx="0.6" fill="#fafafa" stroke="#3a3a3a" stroke-width="0.9"/>
<rect x="399.75" y="479.65" width="4.5" height="2.25" rx="0.5" fill="#000"/>
<rect x="376.00" y="484.80" width="3.60" height="3.60" rx="0.6" fill="#fafafa" stroke="#3a3a3a" stroke-width="0.9"/>
<rect x="375.55" y="484.35" width="4.5" height="2.25" rx="0.5" fill="#000"/>
<rect x="382.00" y="485.20" width="3.60" height="3.60" rx="0.6" fill="#fafafa" stroke="#3a3a3a" stroke-width="0.9"/>
<rect x="381.55" y="484.75" width="4.5" height="2.25" rx="0.5" fill="#000"/>
<rect x="388.30" y="484.80" width="3.60" height="3.60" rx="0.6" fill="#fafafa" stroke="#3a3a3a" stroke-width="0.9"/>
<rect x="387.85" y="484.35" width="4.5" height="2.25" rx="0.5" fill="#000"/>
<rect x="393.80" y="486.00" width="3.60" height="3.60" rx="0.6" fill="#fafafa" stroke="#3a3a3a" stroke-width="0.9"/>
<rect x="393.35" y="485.55" width="4.5" height="2.25" rx="0.5" fill="#000"/>
<rect x="373.10" y="491.10" width="3.60" height="3.60" rx="0.6" fill="#fafafa" stroke="#3a3a3a" stroke-width="0.9"/>
<rect x="372.65" y="490.65" width="4.5" height="2.25" rx="0.5" fill="#000"/>
<rect x="379.00" y="491.50" width="3.60" height="3.60" rx="0.6" fill="#fafafa" stroke="#3a3a3a" stroke-width="0.9"/>
<rect x="378.55" y="491.05" width="4.5" height="2.25" rx="0.5" fill="#000"/>
<rect x="385.40" y="492.00" width="3.60" height="3.60" rx="0.6" fill="#fafafa" stroke="#3a3a3a" stroke-width="0.9"/>
<rect x="384.95" y="491.55" width="4.5" height="2.25" rx="0.5" fill="#000"/>
<rect x="391.30" y="491.50" width="3.60" height="3.60" rx="0.6" fill="#fafafa" stroke="#3a3a3a" stroke-width="0.9"/>
<rect x="390.85" y="491.05" width="4.5" height="2.25" rx="0.5" fill="#000"/>
<rect x="397.60" y="491.10" width="3.60" height="3.60" rx="0.6" fill="#fafafa" stroke="#3a3a3a" stroke-width="0.9"/>
<rect x="397.15" y="490.65" width="4.5" height="2.25" rx="0.5" fill="#000"/>
<rect x="376.00" y="495.80" width="3.60" height="3.60" rx="0.6" fill="#fafafa" stroke="#3a3a3a" stroke-width="0.9"/>
<rect x="375.55" y="495.35" width="4.5" height="2.25" rx="0.5" fill="#000"/>
<rect x="393.80" y="494.50" width="3.60" height="3.60" rx="0.6" fill="#fafafa" stroke="#3a3a3a" stroke-width="0.9"/>
<rect x="393.35" y="494.05" width="4.5" height="2.25" rx="0.5" fill="#000"/>
<rect x="382.00" y="498.70" width="3.60" height="3.60" rx="0.6" fill="#fafafa" stroke="#3a3a3a" stroke-width="0.9"/>
<rect x="381.55" y="498.25" width="4.5" height="2.25" rx="0.5" fill="#000"/>
<rect x="388.30" y="498.30" width="3.60" height="3.60" rx="0.6" fill="#fafafa" stroke="#3a3a3a" stroke-width="0.9"/>
<rect x="387.85" y="497.85" width="4.5" height="2.25" rx="0.5" fill="#000"/>
<rect x="376.00" y="502.50" width="3.60" height="3.60" rx="0.6" fill="#fafafa" stroke="#3a3a3a" stroke-width="0.9"/>
<rect x="375.55" y="502.05" width="4.5" height="2.25" rx="0.5" fill="#000"/>
<rect x="382.00" y="504.20" width="3.60" height="3.60" rx="0.6" fill="#fafafa" stroke="#3a3a3a" stroke-width="0.9"/>
<rect x="381.55" y="503.75" width="4.5" height="2.25" rx="0.5" fill="#000"/>
<rect x="393.80" y="503.40" width="3.60" height="3.60" rx="0.6" fill="#fafafa" stroke="#3a3a3a" stroke-width="0.9"/>
<rect x="393.35" y="502.95" width="4.5" height="2.25" rx="0.5" fill="#000"/>
<rect x="388.30" y="507.60" width="3.60" height="3.60" rx="0.6" fill="#fafafa" stroke="#3a3a3a" stroke-width="0.9"/>
<rect x="387.85" y="507.15" width="4.5" height="2.25" rx="0.5" fill="#000"/>
<rect x="384.90" y="514.40" width="3.60" height="3.60" rx="0.6" fill="#fafafa" stroke="#3a3a3a" stroke-width="0.9"/>
<rect x="384.45" y="513.95" width="4.5" height="2.25" rx="0.5" fill="#000"/>
<rect x="373.73" y="463.33" width="3.60" height="3.60" rx="0.6" fill="#fafafa" stroke="#3a3a3a" stroke-width="0.9"/>
<rect x="373.28" y="462.88" width="4.5" height="2.25" rx="0.5" fill="#000"/>
<rect x="378.63" y="463.44" width="3.60" height="3.60" rx="0.6" fill="#fafafa" stroke="#3a3a3a" stroke-width="0.9"/>
<rect x="378.18" y="462.99" width="4.5" height="2.25" rx="0.5" fill="#000"/>
<rect x="382.88" y="463.01" width="3.60" height="3.60" rx="0.6" fill="#fafafa" stroke="#3a3a3a" stroke-width="0.9"/>
<rect x="382.43" y="462.56" width="4.5" height="2.25" rx="0.5" fill="#000"/>
<rect x="387.45" y="463.01" width="3.60" height="3.60" rx="0.6" fill="#fafafa" stroke="#3a3a3a" stroke-width="0.9"/>
<rect x="387.00" y="462.56" width="4.5" height="2.25" rx="0.5" fill="#000"/>
<rect x="392.46" y="462.94" width="3.60" height="3.60" rx="0.6" fill="#fafafa" stroke="#3a3a3a" stroke-width="0.9"/>
<rect x="392.01" y="462.49" width="4.5" height="2.25" rx="0.5" fill="#000"/>
<rect x="396.92" y="463.00" width="3.60" height="3.60" rx="0.6" fill="#fafafa" stroke="#3a3a3a" stroke-width="0.9"/>
<rect x="396.47" y="462.55" width="4.5" height="2.25" rx="0.5" fill="#000"/>
<rect x="371.46" y="466.35" width="3.60" height="3.60" rx="0.6" fill="#fafafa" stroke="#3a3a3a" stroke-width="0.9"/>
<rect x="371.01" y="465.90" width="4.5" height="2.25" rx="0.5" fill="#000"/>
<rect x="376.44" y="466.48" width="3.60" height="3.60" rx="0.6" fill="#fafafa" stroke="#3a3a3a" stroke-width="0.9"/>
<rect x="375.99" y="466.03" width="4.5" height="2.25" rx="0.5" fill="#000"/>
<rect x="380.46" y="466.24" width="3.60" height="3.60" rx="0.6" fill="#fafafa" stroke="#3a3a3a" stroke-width="0.9"/>
<rect x="380.01" y="465.79" width="4.5" height="2.25" rx="0.5" fill="#000"/>
<rect x="385.15" y="466.66" width="3.60" height="3.60" rx="0.6" fill="#fafafa" stroke="#3a3a3a" stroke-width="0.9"/>
<rect x="384.70" y="466.21" width="4.5" height="2.25" rx="0.5" fill="#000"/>
<rect x="390.22" y="466.61" width="3.60" height="3.60" rx="0.6" fill="#fafafa" stroke="#3a3a3a" stroke-width="0.9"/>
<rect x="389.77" y="466.16" width="4.5" height="2.25" rx="0.5" fill="#000"/>
<rect x="394.83" y="466.57" width="3.60" height="3.60" rx="0.6" fill="#fafafa" stroke="#3a3a3a" stroke-width="0.9"/>
<rect x="394.38" y="466.12" width="4.5" height="2.25" rx="0.5" fill="#000"/>
<rect x="399.51" y="466.61" width="3.60" height="3.60" rx="0.6" fill="#fafafa" stroke="#3a3a3a" stroke-width="0.9"/>
<rect x="399.06" y="466.16" width="4.5" height="2.25" rx="0.5" fill="#000"/>
<rect x="369.13" y="469.84" width="3.60" height="3.60" rx="0.6" fill="#fafafa" stroke="#3a3a3a" stroke-width="0.9"/>
<rect x="368.68" y="469.39" width="4.5" height="2.25" rx="0.5" fill="#000"/>
<rect x="373.89" y="469.78" width="3.60" height="3.60" rx="0.6" fill="#fafafa" stroke="#3a3a3a" stroke-width="0.9"/>
<rect x="373.44" y="469.33" width="4.5" height="2.25" rx="0.5" fill="#000"/>
<rect x="378.54" y="469.55" width="3.60" height="3.60" rx="0.6" fill="#fafafa" stroke="#3a3a3a" stroke-width="0.9"/>
<rect x="378.09" y="469.10" width="4.5" height="2.25" rx="0.5" fill="#000"/>
<rect x="383.00" y="469.55" width="3.60" height="3.60" rx="0.6" fill="#fafafa" stroke="#3a3a3a" stroke-width="0.9"/>
<rect x="382.55" y="469.10" width="4.5" height="2.25" rx="0.5" fill="#000"/>
<rect x="387.57" y="469.33" width="3.60" height="3.60" rx="0.6" fill="#fafafa" stroke="#3a3a3a" stroke-width="0.9"/>
<rect x="387.12" y="468.88" width="4.5" height="2.25" rx="0.5" fill="#000"/>
<rect x="392.52" y="469.81" width="3.60" height="3.60" rx="0.6" fill="#fafafa" stroke="#3a3a3a" stroke-width="0.9"/>
<rect x="392.07" y="469.36" width="4.5" height="2.25" rx="0.5" fill="#000"/>
<rect x="397.24" y="469.73" width="3.60" height="3.60" rx="0.6" fill="#fafafa" stroke="#3a3a3a" stroke-width="0.9"/>
<rect x="396.79" y="469.28" width="4.5" height="2.25" rx="0.5" fill="#000"/>
<rect x="401.54" y="469.77" width="3.60" height="3.60" rx="0.6" fill="#fafafa" stroke="#3a3a3a" stroke-width="0.9"/>
<rect x="401.09" y="469.32" width="4.5" height="2.25" rx="0.5" fill="#000"/>
<rect x="369.04" y="472.92" width="3.60" height="3.60" rx="0.6" fill="#fafafa" stroke="#3a3a3a" stroke-width="0.9"/>
<rect x="368.59" y="472.47" width="4.5" height="2.25" rx="0.5" fill="#000"/>
<rect x="373.86" y="472.57" width="3.60" height="3.60" rx="0.6" fill="#fafafa" stroke="#3a3a3a" stroke-width="0.9"/>
<rect x="373.41" y="472.12" width="4.5" height="2.25" rx="0.5" fill="#000"/>
<rect x="378.29" y="472.82" width="3.60" height="3.60" rx="0.6" fill="#fafafa" stroke="#3a3a3a" stroke-width="0.9"/>
<rect x="377.84" y="472.37" width="4.5" height="2.25" rx="0.5" fill="#000"/>
<rect x="382.93" y="472.77" width="3.60" height="3.60" rx="0.6" fill="#fafafa" stroke="#3a3a3a" stroke-width="0.9"/>
<rect x="382.48" y="472.32" width="4.5" height="2.25" rx="0.5" fill="#000"/>
<rect x="387.77" y="472.73" width="3.60" height="3.60" rx="0.6" fill="#fafafa" stroke="#3a3a3a" stroke-width="0.9"/>
<rect x="387.32" y="472.28" width="4.5" height="2.25" rx="0.5" fill="#000"/>
<rect x="392.04" y="472.79" width="3.60" height="3.60" rx="0.6" fill="#fafafa" stroke="#3a3a3a" stroke-width="0.9"/>
<rect x="391.59" y="472.34" width="4.5" height="2.25" rx="0.5" fill="#000"/>
<rect x="396.71" y="472.61" width="3.60" height="3.60" rx="0.6" fill="#fafafa" stroke="#3a3a3a" stroke-width="0.9"/>
<rect x="396.26" y="472.16" width="4.5" height="2.25" rx="0.5" fill="#000"/>
<rect x="401.29" y="472.71" width="3.60" height="3.60" rx="0.6" fill="#fafafa" stroke="#3a3a3a" stroke-width="0.9"/>
<rect x="400.84" y="472.26" width="4.5" height="2.25" rx="0.5" fill="#000"/>
<line x1="368.1" y1="474.3" x2="406.2" y2="474.3" stroke="#000" stroke-width="1.3"/>
<rect x="440.20" y="455.20" width="3.60" height="3.60" rx="0.6" fill="#fafafa" stroke="#3a3a3a" stroke-width="0.9"/>
<rect x="439.75" y="457.00" width="4.5" height="2.25" rx="0.5" fill="#000"/>
<rect x="446.10" y="453.90" width="3.60" height="3.60" rx="0.6" fill="#fafafa" stroke="#3a3a3a" stroke-width="0.9"/>
<rect x="445.65" y="455.70" width="4.5" height="2.25" rx="0.5" fill="#000"/>
<rect x="443.40" y="463.10" width="3.60" height="3.60" rx="0.6" fill="#fafafa" stroke="#3a3a3a" stroke-width="0.9"/>
<rect x="442.95" y="464.90" width="4.5" height="2.25" rx="0.5" fill="#000"/>
<rect x="428.00" y="465.20" width="3.60" height="3.60" rx="0.6" fill="#fafafa" stroke="#3a3a3a" stroke-width="0.9"/>
<rect x="427.55" y="467.00" width="4.5" height="2.25" rx="0.5" fill="#000"/>
<rect x="433.90" y="467.80" width="3.60" height="3.60" rx="0.6" fill="#fafafa" stroke="#3a3a3a" stroke-width="0.9"/>
<rect x="433.45" y="469.60" width="4.5" height="2.25" rx="0.5" fill="#000"/>
<rect x="440.20" y="469.00" width="3.60" height="3.60" rx="0.6" fill="#fafafa" stroke="#3a3a3a" stroke-width="0.9"/>
<rect x="439.75" y="470.80" width="4.5" height="2.25" rx="0.5" fill="#000"/>
<rect x="446.10" y="468.00" width="3.60" height="3.60" rx="0.6" fill="#fafafa" stroke="#3a3a3a" stroke-width="0.9"/>
<rect x="445.65" y="469.80" width="4.5" height="2.25" rx="0.5" fill="#000"/>
<rect x="452.20" y="467.80" width="3.60" height="3.60" rx="0.6" fill="#fafafa" stroke="#3a3a3a" stroke-width="0.9"/>
<rect x="451.75" y="469.60" width="4.5" height="2.25" rx="0.5" fill="#000"/>
<rect x="458.50" y="465.00" width="3.60" height="3.60" rx="0.6" fill="#fafafa" stroke="#3a3a3a" stroke-width="0.9"/>
<rect x="458.05" y="466.80" width="4.5" height="2.25" rx="0.5" fill="#000"/>
<rect x="440.20" y="471.50" width="3.60" height="3.60" rx="0.6" fill="#fafafa" stroke="#3a3a3a" stroke-width="0.9"/>
<rect x="439.75" y="473.30" width="4.5" height="2.25" rx="0.5" fill="#000"/>
<rect x="446.10" y="474.70" width="3.60" height="3.60" rx="0.6" fill="#fafafa" stroke="#3a3a3a" stroke-width="0.9"/>
<rect x="445.65" y="476.50" width="4.5" height="2.25" rx="0.5" fill="#000"/>
<rect x="452.20" y="475.70" width="3.60" height="3.60" rx="0.6" fill="#fafafa" stroke="#3a3a3a" stroke-width="0.9"/>
<rect x="451.75" y="477.50" width="4.5" height="2.25" rx="0.5" fill="#000"/>
<rect x="433.90" y="477.20" width="3.60" height="3.60" rx="0.6" fill="#fafafa" stroke="#3a3a3a" stroke-width="0.9"/>
<rect x="433.45" y="479.00" width="4.5" height="2.25" rx="0.5" fill="#000"/>
<rect x="446.10" y="478.20" width="3.60" height="3.60" rx="0.6" fill="#fafafa" stroke="#3a3a3a" stroke-width="0.9"/>
<rect x="445.65" y="480.00" width="4.5" height="2.25" rx="0.5" fill="#000"/>
<rect x="440.20" y="481.00" width="3.60" height="3.60" rx="0.6" fill="#fafafa" stroke="#3a3a3a" stroke-width="0.9"/>
<rect x="439.75" y="482.80" width="4.5" height="2.25" rx="0.5" fill="#000"/>
<rect x="440.20" y="485.40" width="3.60" height="3.60" rx="0.6" fill="#fafafa" stroke="#3a3a3a" stroke-width="0.9"/>
<rect x="439.75" y="487.20" width="4.5" height="2.25" rx="0.5" fill="#000"/>
<rect x="446.10" y="488.50" width="3.60" height="3.60" rx="0.6" fill="#fafafa" stroke="#3a3a3a" stroke-width="0.9"/>
<rect x="445.65" y="490.30" width="4.5" height="2.25" rx="0.5" fill="#000"/>
<rect x="443.30" y="496.40" width="3.60" height="3.60" rx="0.6" fill="#fafafa" stroke="#3a3a3a" stroke-width="0.9"/>
<rect x="442.85" y="498.20" width="4.5" height="2.25" rx="0.5" fill="#000"/>
<rect x="437.30" y="501.20" width="3.60" height="3.60" rx="0.6" fill="#fafafa" stroke="#3a3a3a" stroke-width="0.9"/>
<rect x="436.85" y="503.00" width="4.5" height="2.25" rx="0.5" fill="#000"/>
<rect x="443.00" y="503.30" width="3.60" height="3.60" rx="0.6" fill="#fafafa" stroke="#3a3a3a" stroke-width="0.9"/>
<rect x="442.55" y="505.10" width="4.5" height="2.25" rx="0.5" fill="#000"/>
<rect x="449.00" y="500.50" width="3.60" height="3.60" rx="0.6" fill="#fafafa" stroke="#3a3a3a" stroke-width="0.9"/>
<rect x="448.55" y="502.30" width="4.5" height="2.25" rx="0.5" fill="#000"/>
<rect x="443.30" y="513.20" width="3.60" height="3.60" rx="0.6" fill="#fafafa" stroke="#3a3a3a" stroke-width="0.9"/>
<rect x="442.85" y="515.00" width="4.5" height="2.25" rx="0.5" fill="#000"/>
<line x1="425.7" y1="476.2" x2="464.3" y2="476.2" stroke="#000" stroke-width="1.3"/>
<text transform="translate(-0.6,395.6) scale(0.97,1)" font-size="20.9" fill="#111" stroke="#111" stroke-width="0.25">B</text>
<text x="34.95" y="392.7" font-size="14" fill="#222" stroke="#222" stroke-width="0.12" textLength="112.35" lengthAdjust="spacingAndGlyphs">Characteristics</text>
<text x="148.62" y="392.7" font-size="14" fill="#222" stroke="#222" stroke-width="0.12" textLength="15.36" lengthAdjust="spacingAndGlyphs">of</text>
<text x="169.00" y="392.7" font-size="14" fill="#222" stroke="#222" stroke-width="0.12" textLength="17.32" lengthAdjust="spacingAndGlyphs">ex</text>
<text x="190.89" y="392.7" font-size="14" fill="#222" stroke="#222" stroke-width="0.12" textLength="30.31" lengthAdjust="spacingAndGlyphs">vivo</text>
<text x="225.49" y="392.7" font-size="14" fill="#222" stroke="#222" stroke-width="0.12" textLength="73.47" lengthAdjust="spacingAndGlyphs">expanded</text>
<text x="303.79" y="392.7" font-size="14" fill="#222" stroke="#222" stroke-width="0.12" textLength="21.99" lengthAdjust="spacingAndGlyphs">NK</text>
<text x="329.68" y="392.7" font-size="14" fill="#222" stroke="#222" stroke-width="0.12" textLength="33.72" lengthAdjust="spacingAndGlyphs">cells</text>
<text x="367.23" y="392.7" font-size="14" fill="#222" stroke="#222" stroke-width="0.12" textLength="20.03" lengthAdjust="spacingAndGlyphs">on</text>
<text x="390.57" y="392.7" font-size="14" fill="#222" stroke="#222" stroke-width="0.12" textLength="27.74" lengthAdjust="spacingAndGlyphs">day</text>
<text x="420.81" y="392.7" font-size="14" fill="#222" stroke="#222" stroke-width="0.12" textLength="15.47" lengthAdjust="spacingAndGlyphs">of</text>
<text x="440.57" y="392.7" font-size="14" fill="#222" stroke="#222" stroke-width="0.12" textLength="62.80" lengthAdjust="spacingAndGlyphs">infusion</text>
<text x="212.03" y="411.4" font-size="14" fill="#222" stroke="#222" stroke-width="0.12" textLength="44.31" lengthAdjust="spacingAndGlyphs">(n=78</text>
<text x="259.86" y="411.4" font-size="14" fill="#222" stroke="#222" stroke-width="0.12" textLength="67.09" lengthAdjust="spacingAndGlyphs">cultures)</text>
</svg>
</body></html>
